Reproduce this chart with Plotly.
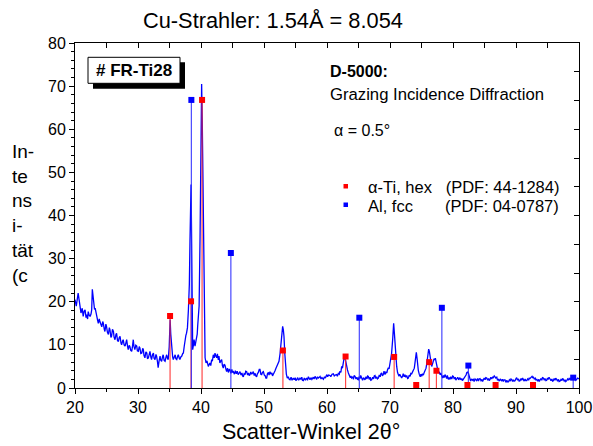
import plotly.graph_objects as go

# ---------------- data ----------------
two_theta = [
20.0,20.2,20.5,20.7,20.95,21.15,21.3,21.45,21.6,21.75,21.85,22.0,22.1,22.25,22.4,22.55,22.65,22.75,22.85,22.95,
23.1,23.2,23.35,23.45,23.6,23.7,23.85,23.95,24.1,24.25,24.4,24.5,24.65,24.75,24.9,25.0,25.15,25.3,25.45,25.55,
25.7,25.8,25.95,26.1,26.2,26.35,26.5,26.6,26.75,26.9,27.0,27.15,27.3,27.4,27.55,27.65,27.8,27.95,28.1,28.2,
28.35,28.45,28.6,28.7,28.85,29.0,29.1,29.25,29.35,29.5,29.65,29.8,29.9,30.05,30.2,30.3,30.45,30.6,30.75,30.85,
30.95,31.1,31.25,31.4,31.5,31.65,31.8,31.9,32.05,32.15,32.3,32.45,32.55,32.7,32.85,32.95,33.1,33.2,33.35,33.5,
33.6,33.75,33.9,34.0,34.15,34.3,34.45,34.55,34.7,34.8,34.95,35.1,35.2,35.35,35.5,35.6,35.75,35.9,36.0,36.15,
36.3,36.4,36.55,36.65,36.8,36.95,37.1,37.2,37.35,37.45,37.6,37.7,37.85,38.0,38.15,38.25,38.35,38.42,38.5,38.6,
38.68,38.8,38.9,39.05,39.15,39.3,39.4,39.47,39.58,39.7,39.85,40.0,40.1,40.2,40.37,40.53,40.65,40.8,40.95,41.16,
41.3,41.4,41.55,41.69,41.8,41.95,42.1,42.22,42.35,42.5,42.6,42.75,42.85,43.0,43.15,43.28,43.4,43.54,43.65,43.8,
43.95,44.07,44.2,44.35,44.5,44.6,44.75,44.9,45.0,45.13,45.3,45.45,45.6,45.75,45.9,46.05,46.19,46.35,46.5,46.6,
46.72,46.85,47.0,47.1,47.25,47.4,47.55,47.65,47.78,47.9,48.05,48.2,48.3,48.45,48.6,48.7,48.83,48.95,49.1,49.25,
49.36,49.5,49.63,49.75,49.9,50.05,50.2,50.3,50.42,50.55,50.7,50.8,50.95,51.1,51.25,51.35,51.48,51.6,51.75,51.9,
52.0,52.2,52.38,52.55,52.7,52.85,52.96,53.07,53.17,53.3,53.44,53.55,53.7,53.85,54.0,54.13,54.3,54.45,54.65,54.8,
54.95,55.05,55.18,55.35,55.5,55.71,55.85,56.0,56.1,56.24,56.4,56.55,56.77,56.9,57.05,57.15,57.3,57.45,57.6,57.83,
57.95,58.1,58.2,58.36,58.5,58.65,58.9,59.05,59.2,59.42,59.6,59.75,59.95,60.1,60.25,60.48,60.6,60.8,61.0,61.15,
61.3,61.53,61.65,61.8,61.95,62.06,62.2,62.33,62.45,62.59,62.75,62.86,63.0,63.15,63.25,63.39,63.55,63.7,63.8,63.92,
64.1,64.2,64.3,64.45,64.6,64.75,64.85,64.97,65.1,65.25,65.35,65.5,65.65,65.8,65.9,66.03,66.2,66.35,66.45,66.56,
66.7,66.85,66.95,67.09,67.25,67.4,67.5,67.62,67.75,67.9,68.0,68.15,68.3,68.45,68.55,68.68,68.8,68.95,69.05,69.21,
69.35,69.5,69.6,69.74,69.85,69.95,70.1,70.25,70.42,70.58,70.7,70.8,70.95,71.06,71.2,71.3,71.43,71.55,71.7,71.85,
72.0,72.1,72.25,72.38,72.5,72.65,72.8,72.91,73.05,73.2,73.3,73.44,73.6,73.75,73.86,73.98,74.08,74.18,74.3,74.39,
74.5,74.66,74.8,74.9,75.03,75.15,75.3,75.4,75.55,75.72,75.85,75.93,76.05,76.14,76.25,76.35,76.5,76.62,76.75,76.88,
77.0,77.1,77.2,77.3,77.4,77.55,77.67,77.8,77.94,78.05,78.2,78.36,78.5,78.6,78.73,78.85,79.0,79.1,79.26,79.4,
79.53,79.65,79.8,79.95,80.06,80.2,80.35,80.45,80.6,80.75,80.9,81.0,81.1,81.25,81.4,81.5,81.64,81.8,81.95,82.07,
82.2,82.33,82.45,82.6,82.7,82.8,82.95,83.1,83.23,83.35,83.5,83.6,83.76,83.9,84.05,84.15,84.29,84.45,84.6,84.7,
84.82,84.95,85.1,85.2,85.35,85.5,85.65,85.75,85.88,86.0,86.15,86.3,86.4,86.55,86.67,86.8,86.95,87.05,87.2,87.35,
87.5,87.6,87.73,87.85,88.0,88.1,88.26,88.4,88.55,88.65,88.79,88.95,89.1,89.2,89.32,89.45,89.6,89.7,89.85,90.0,
90.1,90.25,90.4,90.5,90.64,90.8,90.9,91.05,91.17,91.3,91.45,91.55,91.7,91.85,92.0,92.1,92.23,92.4,92.55,92.65,
92.76,92.9,93.05,93.15,93.3,93.45,93.6,93.7,93.81,93.95,94.1,94.2,94.34,94.5,94.6,94.75,94.87,95.0,95.1,95.25,
95.4,95.55,95.7,95.8,95.93,96.05,96.2,96.3,96.46,96.6,96.75,96.85,97.0,97.15,97.3,97.4,97.52,97.65,97.8,97.9,
98.05,98.2,98.35,98.45,98.6,98.75,98.9,99.0,99.1,99.25,99.4,99.5,99.63,99.8,100.0]

intensity = [
20.5,19.0,22.0,19.6,17.4,18.5,16.6,17.8,18.1,16.3,17.0,16.0,17.7,16.9,16.6,17.2,18.1,22.9,21.0,19.7,
18.2,18.5,17.0,16.6,15.6,15.0,16.0,15.4,14.5,14.2,15.4,15.0,13.6,13.1,14.8,14.3,12.9,12.4,14.0,13.5,
11.7,12.0,13.6,13.1,11.8,11.2,12.4,12.7,11.0,10.8,11.6,12.0,10.4,10.0,10.9,11.2,10.0,9.7,10.6,11.2,
9.6,8.9,9.9,9.7,8.7,8.5,9.4,11.2,9.7,8.9,9.9,9.7,8.6,8.5,9.6,9.3,8.0,8.1,9.2,8.9,
7.6,7.0,8.4,8.1,6.8,7.0,7.9,8.5,7.1,6.6,7.7,8.1,6.9,6.6,7.8,7.4,6.0,4.7,6.3,7.4,
6.5,6.2,7.3,7.7,6.4,6.2,7.2,7.7,6.8,6.6,9.5,15.9,12.5,8.9,7.2,6.6,7.5,7.7,6.8,6.6,
7.4,7.7,6.9,6.6,7.2,7.4,8.0,8.1,9.8,11.6,12.2,12.7,14.0,18.1,24.0,34.0,42.0,47.2,36.0,20.0,
8.9,10.0,11.2,9.7,10.5,11.2,12.5,14.3,16.6,19.0,35.0,58.0,70.5,62.0,35.0,10.4,7.0,5.8,6.3,5.0,
5.6,5.8,5.2,6.6,6.2,7.7,7.0,8.1,7.4,7.0,7.9,6.5,7.4,5.8,6.3,6.6,5.2,4.6,5.5,5.3,
4.4,3.8,4.6,3.6,4.4,4.2,3.4,4.3,3.6,3.8,3.2,4.0,3.3,3.9,3.1,3.4,3.8,3.0,3.5,2.8,
2.6,3.3,3.1,3.9,3.8,3.0,3.5,2.9,3.1,3.7,3.2,3.5,3.8,2.9,3.4,2.8,2.6,3.3,3.6,4.3,
4.3,3.2,3.1,3.6,3.8,3.0,2.8,2.3,2.3,3.3,3.6,3.0,3.8,3.2,3.5,2.8,3.1,3.6,4.0,4.6,
5.0,5.6,6.2,8.0,10.4,13.5,14.3,13.5,12.0,8.0,5.0,3.2,2.3,2.6,2.0,1.9,2.5,1.8,2.3,1.9,
2.4,1.7,1.9,2.4,1.8,2.3,2.0,2.5,1.8,1.7,2.3,1.9,2.3,1.8,2.6,2.1,1.9,2.4,2.0,2.5,
2.1,2.7,2.2,2.0,2.6,2.3,2.7,2.1,2.4,2.0,2.6,2.3,3.1,2.6,3.0,2.9,2.6,3.2,3.3,2.8,
3.0,3.1,2.7,3.4,3.2,3.9,3.6,5.0,4.6,6.6,7.3,7.0,5.8,4.8,4.2,3.5,2.9,2.4,2.8,2.3,
2.6,2.0,2.9,2.7,2.1,2.5,2.0,1.9,2.6,2.2,2.9,2.5,1.8,2.4,2.0,1.9,2.6,2.1,2.8,2.7,
2.0,2.5,1.8,1.9,2.5,2.1,2.8,2.9,2.2,2.6,2.1,2.3,3.0,2.6,3.3,3.5,2.8,3.2,3.9,3.1,
3.7,3.5,4.2,4.7,4.4,5.4,6.6,8.0,11.2,15.0,12.6,10.0,6.8,5.0,3.6,3.1,2.7,3.2,2.6,2.3,
2.8,3.3,2.6,3.1,2.5,2.9,2.2,2.3,3.0,2.7,3.4,3.3,3.8,4.1,4.6,6.0,7.7,8.3,6.8,5.4,
4.0,3.1,2.6,3.2,2.7,3.3,3.0,3.5,4.0,4.6,5.8,6.6,8.4,9.0,8.5,7.0,6.0,5.0,5.6,6.2,
6.8,6.5,6.9,6.2,5.4,4.2,3.5,3.8,3.1,3.5,2.6,2.3,2.9,2.4,3.1,2.6,2.2,2.9,2.0,2.4,
2.0,2.6,2.1,2.8,2.7,2.1,2.5,1.8,2.1,2.5,1.9,2.3,2.4,1.9,2.2,1.7,2.0,2.4,2.6,3.0,
3.6,3.7,3.4,2.5,2.0,1.6,2.1,1.8,2.0,1.5,2.1,1.8,1.7,2.2,1.6,2.1,2.2,1.7,2.0,1.5,
1.8,2.3,1.9,2.4,2.3,1.8,2.2,1.7,2.0,2.5,2.1,2.6,2.4,2.8,2.6,2.3,2.5,1.9,2.0,1.6,
2.1,1.7,1.6,2.0,1.5,1.9,1.9,1.3,1.8,1.4,1.4,1.9,1.6,2.1,2.0,1.5,1.9,1.6,1.7,2.2,
2.4,1.8,2.1,1.6,1.7,2.2,1.8,2.3,2.0,1.6,2.1,1.7,1.7,2.1,1.8,2.3,2.2,2.5,2.7,2.4,
2.5,2.1,2.3,1.9,2.0,1.6,2.0,1.5,1.7,2.2,1.8,2.4,2.3,1.8,2.2,1.7,1.8,2.3,2.0,2.5,
2.1,1.7,2.1,1.6,1.7,2.2,1.8,2.3,2.0,1.6,2.0,1.5,1.6,2.0,1.7,2.2,2.0,1.6,1.9,1.5,
1.7,2.1,1.8,2.2,2.0,2.4,2.6,2.3,2.4,1.9,2.2,1.8,2.0,2.3,2.1]

# reference patterns (PDF cards)
ti_pos = [35.09, 38.42, 40.17, 53.00, 62.95, 70.66, 74.16, 76.22, 77.37, 82.29, 86.76, 92.70]
ti_int = [16.7, 20.1, 66.8, 8.7, 7.3, 7.2, 0.7, 6.0, 4.0, 0.7, 0.7, 0.7]
al_pos = [38.47, 44.74, 65.13, 78.23, 82.44, 99.08]
al_int = [66.8, 31.3, 16.3, 18.6, 5.2, 2.4]

ti_label = "α-Ti, hex\u00a0\u00a0\u00a0(PDF: 44-1284)"
al_label = "Al, fcc\u00a0\u00a0\u00a0\u00a0\u00a0\u00a0\u00a0(PDF: 04-0787)"
ti_color = "#ff0000"
al_color = "#0000ff"

FONT = "Liberation Sans, Arial, Helvetica, sans-serif"

# ---------------- geometry helpers (pixel -> paper) ----------------
L, R, T, B = 75, 14, 43, 58
W, H = 593, 446
PW, PH = W - L - R, H - T - B
def fx(px): return (px - L) / PW
def fy(py): return (H - B - py) / PH

def sticks(pos, val):
    xs, ys = [], []
    for p, v in zip(pos, val):
        xs += [p, p, None]
        ys += [0, v, None]
    return xs, ys

fig = go.Figure()

fig.add_trace(go.Scatter(x=two_theta, y=intensity, mode="lines",
                         line=dict(color="#0000ff", width=1.3), showlegend=False))

tx, ty = sticks(ti_pos, ti_int)
fig.add_trace(go.Scatter(x=tx, y=ty, mode="lines",
                         line=dict(color="rgba(255,40,40,0.85)", width=1.2), showlegend=False))
ax, ay = sticks(al_pos, al_int)
fig.add_trace(go.Scatter(x=ax, y=ay, mode="lines",
                         line=dict(color="rgba(40,40,255,0.85)", width=1.2), showlegend=False))

fig.add_trace(go.Scatter(x=ti_pos, y=ti_int, mode="markers", name=ti_label, showlegend=False,
                         marker=dict(symbol="square", size=6, color=ti_color)))
fig.add_trace(go.Scatter(x=al_pos, y=al_int, mode="markers", name=al_label, showlegend=False,
                         marker=dict(symbol="square", size=6, color=al_color)))

# dummy trace for mirrored axes
fig.add_trace(go.Scatter(x=[], y=[], xaxis="x2", yaxis="y2", showlegend=False, hoverinfo="skip"))

axis_common = dict(showline=True, linecolor="black", linewidth=1, showgrid=False,
                   zeroline=False, tickcolor="black", mirror=False, automargin=False)

fig.update_layout(
    width=W, height=H,
    margin=dict(l=L, r=R, t=T, b=B, autoexpand=False),
    paper_bgcolor="white", plot_bgcolor="white",
    font=dict(family=FONT, color="black", size=16),
    showlegend=False,
    xaxis=dict(range=[20, 100], dtick=10, tick0=0, ticks="outside", ticklen=5,
               minor=dict(dtick=5, ticks="outside", ticklen=3, tickcolor="black"),
               tickfont=dict(size=16), **axis_common),
    yaxis=dict(range=[0, 80], dtick=10, tick0=0, ticks="outside", ticklen=5,
               minor=dict(dtick=2, ticks="outside", ticklen=3, tickcolor="black"),
               tickfont=dict(size=16), **axis_common),
    xaxis2=dict(range=[20, 100], overlaying="x", side="top", anchor="y",
                dtick=5, tick0=0, ticks="inside", ticklen=5, showticklabels=False,
                **axis_common),
    yaxis2=dict(range=[0, 80], overlaying="y", side="right", anchor="x",
                dtick=20/3, tick0=0, ticks="inside", ticklen=5, showticklabels=False,
                **axis_common),
)

# sample box with shadow
fig.add_shape(type="rect", xref="paper", yref="paper",
              x0=fx(93), x1=fx(185), y0=fy(88.7), y1=fy(62.3),
              fillcolor="black", line=dict(width=0), layer="above")
fig.add_shape(type="rect", xref="paper", yref="paper",
              x0=fx(88), x1=fx(180), y0=fy(83.3), y1=fy(57.3),
              fillcolor="white", line=dict(color="black", width=1), layer="above")

# legend keys (small squares)
legend_keys = [(188.5, 184, ti_color), (207, 202.5, al_color)]
for yb, yt, col in legend_keys:
    fig.add_shape(type="rect", xref="paper", yref="paper",
                  x0=fx(343.5), x1=fx(348), y0=fy(yb), y1=fy(yt),
                  fillcolor=col, line=dict(width=0), layer="above")

ann = [
    dict(text="<b># FR-Ti28</b>", x=fx(134), y=fy(70.5), xanchor="center", yanchor="middle",
         font=dict(size=17)),
    dict(text="<b>D-5000:</b>", x=fx(328), y=fy(71), xanchor="left", yanchor="middle",
         font=dict(size=16)),
    dict(text="Grazing Incidence Diffraction", x=fx(328), y=fy(94.5), xanchor="left",
         yanchor="middle", font=dict(size=16.7)),
    dict(text="α = 0.5°", x=fx(332), y=fy(130), xanchor="left", yanchor="middle",
         font=dict(size=16)),
    dict(text=ti_label, x=fx(366), y=fy(186.5), xanchor="left", yanchor="middle",
         font=dict(size=16.5)),
    dict(text=al_label, x=fx(366), y=fy(205.5), xanchor="left", yanchor="middle",
         font=dict(size=16.5)),
    dict(text="Cu-Strahler: 1.54Å = 8.054", x=fx(405), y=fy(20), xanchor="right",
         yanchor="middle", font=dict(size=21.8)),
    dict(text="Scatter-Winkel 2θ°", x=fx(311), y=fy(432), xanchor="center",
         yanchor="middle", font=dict(size=21.5), borderpad=0),
    dict(text="In-<br>te<br>ns<br>i-<br>tät<br>(c", x=fx(10), y=fy(213), xanchor="left",
         yanchor="middle", align="left", font=dict(size=19)),
]
for a in ann:
    a.update(xref="paper", yref="paper", showarrow=False)
    fig.add_annotation(**a)

fig.write_html("out.html", config={"displayModeBar": False},
               post_script="document.body.style.margin='0';document.body.style.overflow='hidden';")
